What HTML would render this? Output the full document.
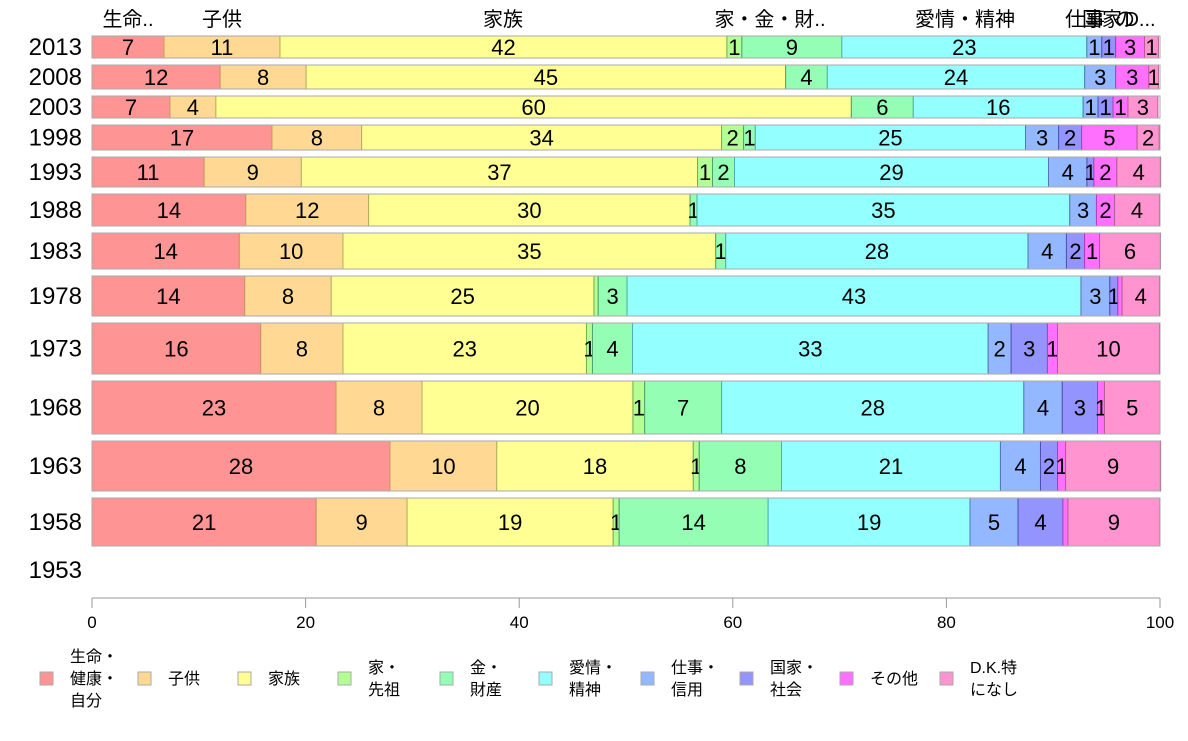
<!DOCTYPE html>
<html><head><meta charset="utf-8"><style>
body{margin:0;background:#fff;}
svg text{font-family:"Liberation Sans","Noto Sans CJK JP",sans-serif;}
</style></head><body>
<svg id="chart" width="1188" height="736" xmlns="http://www.w3.org/2000/svg"></svg>
<script>
const years = ["2013","2008","2003","1998","1993","1988","1983","1978","1973","1968","1963","1958","1953"];
const sampleWeights = [22,24,22,25,30,32,36,40,51,53,50,48,0];
const categories = ["生命・健康・自分","子供","家族","家・先祖","金・財産","愛情・精神","仕事・信用","国家・社会","その他","D.K.特になし"];
const s_life   = [6.74,12.0,7.3,16.85,10.5,14.4,13.8,14.3,15.8,22.85,27.9,21.0,0];
const s_child  = [10.86,8.05,4.3,8.4,9.1,11.5,9.7,8.1,7.7,8.05,10.0,8.5,0];
const s_family = [41.85,44.9,59.5,33.7,37.1,30.1,34.9,24.6,22.8,19.75,18.4,19.3,0];
const s_house  = [1.4,0,0,2.06,1.4,0,0,0.4,0.56,1.1,0.56,0.56,0];
const s_money  = [9.36,3.9,5.8,1.1,2.06,0.65,0.94,2.7,3.75,7.2,7.7,13.95,0];
const s_love   = [22.94,24.1,15.9,25.3,29.4,34.9,28.3,42.5,33.3,28.3,20.5,18.9,0];
const s_work   = [1.4,2.9,1.4,3.1,3.6,2.5,3.6,2.7,2.15,3.6,3.75,4.5,0];
const s_nation = [1.3,0,1.4,2.15,0.65,0,1.7,0.75,3.4,3.3,1.6,4.2,0];
const s_other  = [2.7,3.1,1.4,5.2,2.15,1.7,1.4,0.4,0.94,0.65,0.75,0.47,0];
const s_dk     = [1.3,0.9,2.8,2.06,4.1,4.2,5.7,3.5,9.55,5.2,8.9,8.6,0];
const series = [s_life,s_child,s_family,s_house,s_money,s_love,s_work,s_nation,s_other,s_dk];
const xTicks = [0,20,40,60,80,100];
const headerLabels = ["生命..","子供","家族","家・金・財..","愛情・精神","仕事","国家","の","D..."];
const headerPos = [128,222,503,770,965,1085,1102,1125,1140];

const fills=["#ff9494","#ffd894","#ffff94","#b4ff94","#94ffb4","#94ffff","#94b8ff","#9494ff","#ff70ff","#ff94d0"];
const strokes=["#d06060","#c0a060","#b0b060","#70b050","#50a070","#50b0b0","#5078b0","#5050b0","#b040b0","#b06090"];
const svg=document.getElementById('chart');
const NS="http://www.w3.org/2000/svg";
const X0=92,X1=1160;
const xs=v=>X0+(X1-X0)*v/100;
function mk(t,a,txt){const e=document.createElementNS(NS,t);for(const k in a)e.setAttribute(k,a[k]);if(txt!==undefined)e.textContent=txt;svg.appendChild(e);return e;}

headerLabels.forEach((h,i)=>{
  const e=mk('text',{x:headerPos[i],y:26,'font-size':20,'text-anchor':'middle',fill:'#000'},h);
  
  
});

let y=36;
years.forEach((yr,r)=>{
  const h=sampleWeights[r];
  const cy= h>0 ? y+h/2 : 570;
  const yl=mk('text',{x:82,y:cy+8,'font-size':24,'text-anchor':'end',fill:'#000'},yr);
  
  
  if(h>0){
    let acc=0;
    series.forEach((s,c)=>{
      const v=s[r]; if(v<=0){return;}
      const x=xs(acc), w=xs(acc+v)-x;
      const rc=mk('rect',{x:x,y:y,width:w,height:h,fill:fills[c],stroke:strokes[c],'stroke-width':1});
      
      
      const lab=Math.round(v);
      if(lab>=1){
        const t=mk('text',{x:x+w/2,y:cy+8,'font-size':22,'text-anchor':'middle',fill:'#000'},String(lab));
        
        
      }
      acc+=v;
    });
    const o=mk('rect',{x:X0,y:y,width:X1-X0,height:h,fill:'none',stroke:'#aaa','stroke-width':1});
    
    
  }
  y+=h+7;
});

const ax=mk('line',{x1:X0,y1:598,x2:X1,y2:598,stroke:'#999','stroke-width':1});


xTicks.forEach(t=>{
  const l=mk('line',{x1:xs(t),y1:598,x2:xs(t),y2:608,stroke:'#999'});
  
  
  const tx=mk('text',{x:xs(t),y:628,'font-size':17,'text-anchor':'middle',fill:'#000'},String(t));
  
  
});

const legX=[40,138,238,338,440,539,641,740,840,940];
const legLines=[["生命・","健康・","自分"],["子供"],["家族"],["家・","先祖"],["金・","財産"],["愛情・","精神"],["仕事・","信用"],["国家・","社会"],["その他"],["D.K.特","になし"]];
legLines.forEach((lines,i)=>{
  const sq=mk('rect',{x:legX[i],y:672,width:13,height:13,fill:fills[i],stroke:'#aaa'});
  
  
  const n=lines.length;
  lines.forEach((ln,k)=>{
    const ty=684+(k-(n-1)/2)*22;
    const t=mk('text',{x:legX[i]+30,y:ty,'font-size':16,fill:'#000'},ln);
    
    
  });
});
</script>
</body></html>
